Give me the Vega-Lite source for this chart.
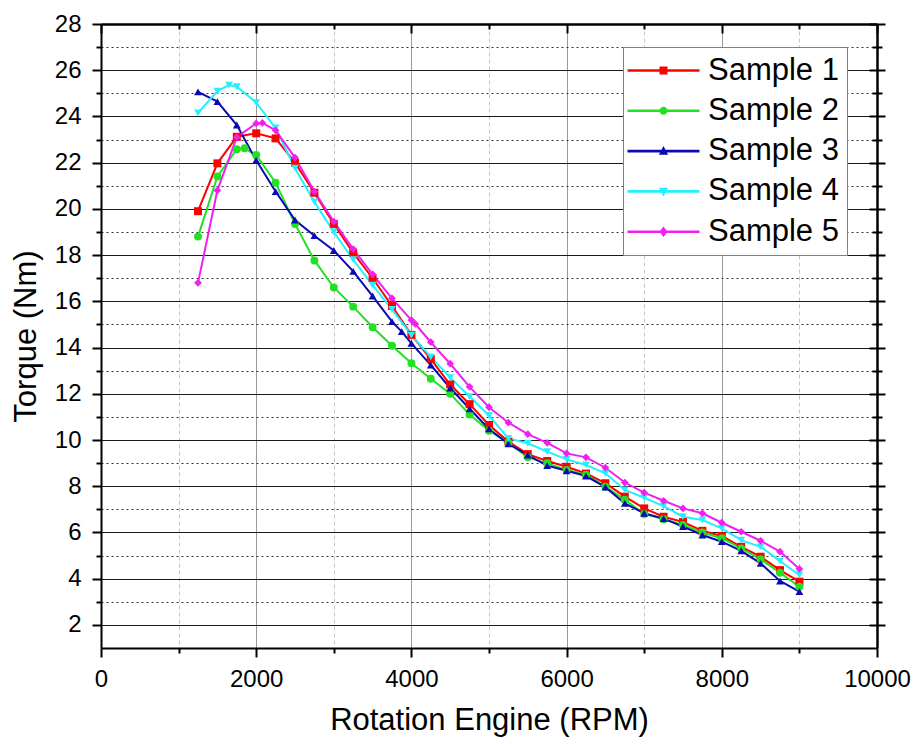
{
  "$schema": "https://vega.github.io/schema/vega-lite/v6.json",
  "width": 776,
  "height": 624,
  "autosize": {"type": "none"},
  "padding": {"left": 101, "top": 24, "right": 39, "bottom": 96},
  "background": "white",
  "config": {
    "font": "Liberation Sans",
    "view": {"stroke": null},
    "axis": {"labelColor": "#000", "titleColor": "#000", "tickColor": "#000", "domainColor": "#000", "labelFont": "Liberation Sans", "titleFont": "Liberation Sans", "titleFontWeight": "normal"}
  },
  "data": {"values": [
    {"series": "Sample 1", "rpm": 1250, "torque": 19.9},
    {"series": "Sample 1", "rpm": 1500, "torque": 21.97},
    {"series": "Sample 1", "rpm": 1750, "torque": 23.12},
    {"series": "Sample 1", "rpm": 2000, "torque": 23.27},
    {"series": "Sample 1", "rpm": 2250, "torque": 23.05},
    {"series": "Sample 1", "rpm": 2500, "torque": 22.0},
    {"series": "Sample 1", "rpm": 2750, "torque": 20.7},
    {"series": "Sample 1", "rpm": 3000, "torque": 19.35},
    {"series": "Sample 1", "rpm": 3250, "torque": 18.1},
    {"series": "Sample 1", "rpm": 3500, "torque": 17.0},
    {"series": "Sample 1", "rpm": 3750, "torque": 15.8},
    {"series": "Sample 1", "rpm": 4000, "torque": 14.55},
    {"series": "Sample 1", "rpm": 4250, "torque": 13.5},
    {"series": "Sample 1", "rpm": 4500, "torque": 12.4},
    {"series": "Sample 1", "rpm": 4750, "torque": 11.55},
    {"series": "Sample 1", "rpm": 5000, "torque": 10.65},
    {"series": "Sample 1", "rpm": 5250, "torque": 9.93},
    {"series": "Sample 1", "rpm": 5500, "torque": 9.39},
    {"series": "Sample 1", "rpm": 5750, "torque": 9.09},
    {"series": "Sample 1", "rpm": 6000, "torque": 8.84},
    {"series": "Sample 1", "rpm": 6250, "torque": 8.55},
    {"series": "Sample 1", "rpm": 6500, "torque": 8.13},
    {"series": "Sample 1", "rpm": 6750, "torque": 7.55},
    {"series": "Sample 1", "rpm": 7000, "torque": 7.04},
    {"series": "Sample 1", "rpm": 7250, "torque": 6.68},
    {"series": "Sample 1", "rpm": 7500, "torque": 6.45},
    {"series": "Sample 1", "rpm": 7750, "torque": 6.07},
    {"series": "Sample 1", "rpm": 8000, "torque": 5.85},
    {"series": "Sample 1", "rpm": 8250, "torque": 5.38},
    {"series": "Sample 1", "rpm": 8500, "torque": 4.95},
    {"series": "Sample 1", "rpm": 8750, "torque": 4.37},
    {"series": "Sample 1", "rpm": 9000, "torque": 3.87},
    {"series": "Sample 2", "rpm": 1250, "torque": 18.8},
    {"series": "Sample 2", "rpm": 1500, "torque": 21.4},
    {"series": "Sample 2", "rpm": 1750, "torque": 22.58},
    {"series": "Sample 2", "rpm": 1850, "torque": 22.62},
    {"series": "Sample 2", "rpm": 2000, "torque": 22.33},
    {"series": "Sample 2", "rpm": 2250, "torque": 21.13},
    {"series": "Sample 2", "rpm": 2500, "torque": 19.35},
    {"series": "Sample 2", "rpm": 2750, "torque": 17.77},
    {"series": "Sample 2", "rpm": 3000, "torque": 16.6},
    {"series": "Sample 2", "rpm": 3250, "torque": 15.77},
    {"series": "Sample 2", "rpm": 3500, "torque": 14.88},
    {"series": "Sample 2", "rpm": 3750, "torque": 14.08},
    {"series": "Sample 2", "rpm": 4000, "torque": 13.32},
    {"series": "Sample 2", "rpm": 4250, "torque": 12.65},
    {"series": "Sample 2", "rpm": 4500, "torque": 12.0},
    {"series": "Sample 2", "rpm": 4750, "torque": 11.1},
    {"series": "Sample 2", "rpm": 5000, "torque": 10.4},
    {"series": "Sample 2", "rpm": 5250, "torque": 9.88},
    {"series": "Sample 2", "rpm": 5500, "torque": 9.25},
    {"series": "Sample 2", "rpm": 5750, "torque": 8.99},
    {"series": "Sample 2", "rpm": 6000, "torque": 8.7},
    {"series": "Sample 2", "rpm": 6250, "torque": 8.5},
    {"series": "Sample 2", "rpm": 6500, "torque": 7.98},
    {"series": "Sample 2", "rpm": 6750, "torque": 7.42},
    {"series": "Sample 2", "rpm": 7000, "torque": 6.8},
    {"series": "Sample 2", "rpm": 7250, "torque": 6.57},
    {"series": "Sample 2", "rpm": 7500, "torque": 6.32},
    {"series": "Sample 2", "rpm": 7750, "torque": 6.0},
    {"series": "Sample 2", "rpm": 8000, "torque": 5.75},
    {"series": "Sample 2", "rpm": 8250, "torque": 5.31},
    {"series": "Sample 2", "rpm": 8500, "torque": 4.84},
    {"series": "Sample 2", "rpm": 8750, "torque": 4.26},
    {"series": "Sample 2", "rpm": 9000, "torque": 3.65},
    {"series": "Sample 3", "rpm": 1250, "torque": 25.06},
    {"series": "Sample 3", "rpm": 1500, "torque": 24.64},
    {"series": "Sample 3", "rpm": 1750, "torque": 23.63},
    {"series": "Sample 3", "rpm": 2000, "torque": 22.1},
    {"series": "Sample 3", "rpm": 2250, "torque": 20.75},
    {"series": "Sample 3", "rpm": 2500, "torque": 19.52},
    {"series": "Sample 3", "rpm": 2750, "torque": 18.84},
    {"series": "Sample 3", "rpm": 3000, "torque": 18.2},
    {"series": "Sample 3", "rpm": 3250, "torque": 17.3},
    {"series": "Sample 3", "rpm": 3500, "torque": 16.23},
    {"series": "Sample 3", "rpm": 3750, "torque": 15.12},
    {"series": "Sample 3", "rpm": 3875, "torque": 14.69},
    {"series": "Sample 3", "rpm": 4000, "torque": 14.18},
    {"series": "Sample 3", "rpm": 4250, "torque": 13.24},
    {"series": "Sample 3", "rpm": 4500, "torque": 12.25},
    {"series": "Sample 3", "rpm": 4750, "torque": 11.35},
    {"series": "Sample 3", "rpm": 5000, "torque": 10.48},
    {"series": "Sample 3", "rpm": 5250, "torque": 9.83},
    {"series": "Sample 3", "rpm": 5500, "torque": 9.35},
    {"series": "Sample 3", "rpm": 5750, "torque": 8.89},
    {"series": "Sample 3", "rpm": 6000, "torque": 8.67},
    {"series": "Sample 3", "rpm": 6250, "torque": 8.44},
    {"series": "Sample 3", "rpm": 6500, "torque": 7.96},
    {"series": "Sample 3", "rpm": 6750, "torque": 7.26},
    {"series": "Sample 3", "rpm": 7000, "torque": 6.83},
    {"series": "Sample 3", "rpm": 7250, "torque": 6.6},
    {"series": "Sample 3", "rpm": 7500, "torque": 6.25},
    {"series": "Sample 3", "rpm": 7750, "torque": 5.89},
    {"series": "Sample 3", "rpm": 8000, "torque": 5.6},
    {"series": "Sample 3", "rpm": 8250, "torque": 5.2},
    {"series": "Sample 3", "rpm": 8500, "torque": 4.66},
    {"series": "Sample 3", "rpm": 8750, "torque": 3.9},
    {"series": "Sample 3", "rpm": 9000, "torque": 3.44},
    {"series": "Sample 4", "rpm": 1250, "torque": 24.15},
    {"series": "Sample 4", "rpm": 1500, "torque": 25.1},
    {"series": "Sample 4", "rpm": 1650, "torque": 25.36},
    {"series": "Sample 4", "rpm": 1750, "torque": 25.29},
    {"series": "Sample 4", "rpm": 2000, "torque": 24.6},
    {"series": "Sample 4", "rpm": 2250, "torque": 23.5},
    {"series": "Sample 4", "rpm": 2500, "torque": 21.76},
    {"series": "Sample 4", "rpm": 2750, "torque": 20.3},
    {"series": "Sample 4", "rpm": 3000, "torque": 19.0},
    {"series": "Sample 4", "rpm": 3250, "torque": 17.8},
    {"series": "Sample 4", "rpm": 3500, "torque": 16.7},
    {"series": "Sample 4", "rpm": 3750, "torque": 15.65},
    {"series": "Sample 4", "rpm": 4000, "torque": 14.54},
    {"series": "Sample 4", "rpm": 4250, "torque": 13.6},
    {"series": "Sample 4", "rpm": 4500, "torque": 12.7},
    {"series": "Sample 4", "rpm": 4750, "torque": 11.88},
    {"series": "Sample 4", "rpm": 5000, "torque": 11.06},
    {"series": "Sample 4", "rpm": 5250, "torque": 10.07},
    {"series": "Sample 4", "rpm": 5500, "torque": 9.86},
    {"series": "Sample 4", "rpm": 5750, "torque": 9.5},
    {"series": "Sample 4", "rpm": 6000, "torque": 9.16},
    {"series": "Sample 4", "rpm": 6250, "torque": 8.92},
    {"series": "Sample 4", "rpm": 6500, "torque": 8.56},
    {"series": "Sample 4", "rpm": 6750, "torque": 7.84},
    {"series": "Sample 4", "rpm": 7000, "torque": 7.5},
    {"series": "Sample 4", "rpm": 7250, "torque": 7.14},
    {"series": "Sample 4", "rpm": 7500, "torque": 6.68},
    {"series": "Sample 4", "rpm": 7750, "torque": 6.54},
    {"series": "Sample 4", "rpm": 8000, "torque": 6.18},
    {"series": "Sample 4", "rpm": 8250, "torque": 5.67},
    {"series": "Sample 4", "rpm": 8500, "torque": 5.38},
    {"series": "Sample 4", "rpm": 8750, "torque": 4.76},
    {"series": "Sample 4", "rpm": 9000, "torque": 4.16},
    {"series": "Sample 5", "rpm": 1250, "torque": 16.8},
    {"series": "Sample 5", "rpm": 1500, "torque": 20.8},
    {"series": "Sample 5", "rpm": 1750, "torque": 23.1},
    {"series": "Sample 5", "rpm": 2000, "torque": 23.7},
    {"series": "Sample 5", "rpm": 2080, "torque": 23.72},
    {"series": "Sample 5", "rpm": 2250, "torque": 23.4},
    {"series": "Sample 5", "rpm": 2500, "torque": 22.22},
    {"series": "Sample 5", "rpm": 2750, "torque": 20.75},
    {"series": "Sample 5", "rpm": 3000, "torque": 19.45},
    {"series": "Sample 5", "rpm": 3250, "torque": 18.26},
    {"series": "Sample 5", "rpm": 3500, "torque": 17.17},
    {"series": "Sample 5", "rpm": 3750, "torque": 16.13},
    {"series": "Sample 5", "rpm": 4000, "torque": 15.19},
    {"series": "Sample 5", "rpm": 4050, "torque": 15.02},
    {"series": "Sample 5", "rpm": 4250, "torque": 14.23},
    {"series": "Sample 5", "rpm": 4500, "torque": 13.3},
    {"series": "Sample 5", "rpm": 4750, "torque": 12.3},
    {"series": "Sample 5", "rpm": 5000, "torque": 11.42},
    {"series": "Sample 5", "rpm": 5250, "torque": 10.75},
    {"series": "Sample 5", "rpm": 5500, "torque": 10.25},
    {"series": "Sample 5", "rpm": 5750, "torque": 9.88},
    {"series": "Sample 5", "rpm": 6000, "torque": 9.42},
    {"series": "Sample 5", "rpm": 6250, "torque": 9.25},
    {"series": "Sample 5", "rpm": 6500, "torque": 8.8},
    {"series": "Sample 5", "rpm": 6750, "torque": 8.16},
    {"series": "Sample 5", "rpm": 7000, "torque": 7.72},
    {"series": "Sample 5", "rpm": 7250, "torque": 7.37},
    {"series": "Sample 5", "rpm": 7500, "torque": 7.04},
    {"series": "Sample 5", "rpm": 7750, "torque": 6.83},
    {"series": "Sample 5", "rpm": 8000, "torque": 6.42},
    {"series": "Sample 5", "rpm": 8250, "torque": 6.03},
    {"series": "Sample 5", "rpm": 8500, "torque": 5.64},
    {"series": "Sample 5", "rpm": 8750, "torque": 5.17},
    {"series": "Sample 5", "rpm": 9000, "torque": 4.42}
  ]},
  "resolve": {
    "axis": {"x": "independent", "y": "independent"},
    "scale": {"color": "independent", "shape": "independent", "size": "independent"},
    "legend": {"color": "independent", "shape": "independent", "size": "independent"}
  },
  "layer": [
    {
      "mark": {"type": "line", "strokeWidth": 2},
      "encoding": {
        "x": {"field": "rpm", "type": "quantitative", "scale": {"domain": [0, 10000], "nice": false, "zero": false},
          "axis": {"orient": "bottom", "values": [1000, 3000, 5000, 7000, 9000], "labels": false, "domain": false, "title": null, "tickSize": 5, "tickWidth": 2, "grid": true, "gridColor": "#c4c4c4", "gridWidth": 1, "gridDash": [4, 3], "zindex": 0}},
        "y": {"field": "torque", "type": "quantitative", "scale": {"domain": [1, 28], "nice": false, "zero": false},
          "axis": {"orient": "left", "values": [3, 5, 7, 9, 11, 13, 15, 17, 19, 21, 23, 25, 27], "labels": false, "domain": false, "title": null, "tickSize": 5, "tickWidth": 2, "grid": true, "gridColor": "#333", "gridWidth": 1, "gridDash": [2, 3], "zindex": 0}},
        "color": {"field": "series", "type": "nominal", "legend": null,
          "scale": {"domain": ["Sample 1", "Sample 2", "Sample 3", "Sample 4", "Sample 5"], "range": ["#ff0000", "#22e022", "#0a0ab4", "#22f0ff", "#f020f0"]}}
      }
    },
    {
      "mark": {"type": "point", "filled": true, "opacity": 1},
      "encoding": {
        "x": {"field": "rpm", "type": "quantitative",
          "axis": {"orient": "bottom", "values": [0, 2000, 4000, 6000, 8000, 10000], "format": "d", "labelFontSize": 24, "labelPadding": 10, "labelFlush": false, "tickSize": 9, "tickWidth": 2, "domainWidth": 2, "grid": true, "gridColor": "#9a9a9a", "gridWidth": 1, "title": "Rotation Engine (RPM)", "titleFontSize": 31, "titlePadding": 14, "zindex": 0}},
        "y": {"field": "torque", "type": "quantitative",
          "axis": {"orient": "left", "values": [2, 4, 6, 8, 10, 12, 14, 16, 18, 20, 22, 24, 26, 28], "labelFontSize": 24, "labelPadding": 11, "tickSize": 9, "tickWidth": 2, "domainWidth": 2, "grid": true, "gridColor": "#1a1a1a", "gridWidth": 1.2, "title": "Torque (Nm)", "titleFontSize": 31, "titlePadding": 12, "zindex": 0}},
        "color": {"field": "series", "type": "nominal", "legend": null,
          "scale": {"domain": ["Sample 1", "Sample 2", "Sample 3", "Sample 4", "Sample 5"], "range": ["#ff0000", "#22e022", "#0a0ab4", "#22f0ff", "#f020f0"]}},
        "shape": {"field": "series", "type": "nominal", "legend": null,
          "scale": {"domain": ["Sample 1", "Sample 2", "Sample 3", "Sample 4", "Sample 5"], "range": ["square", "circle", "triangle-up", "triangle-down", "diamond"]}},
        "size": {"field": "series", "type": "nominal", "legend": null,
          "scale": {"domain": ["Sample 1", "Sample 2", "Sample 3", "Sample 4", "Sample 5"], "range": [64, 60, 90, 90, 80]}}
      }
    },
    {
      "transform": [{"filter": "datum.rpm < 0"}],
      "mark": {"type": "point", "filled": true, "size": 64, "opacity": 1},
      "encoding": {
        "x": {"field": "rpm", "type": "quantitative", "axis": null},
        "y": {"field": "torque", "type": "quantitative", "axis": null},
        "color": {"field": "series", "type": "nominal",
          "scale": {"domain": ["Sample 1", "Sample 2", "Sample 3", "Sample 4", "Sample 5"], "range": ["#ff0000", "#22e022", "#0a0ab4", "#22f0ff", "#f020f0"]},
          "legend": {"title": null, "orient": "none", "legendX": 522, "legendY": 23, "fillColor": "white", "strokeColor": "#808080", "padding": 8,
            "labelFontSize": 31, "labelColor": "#000", "labelLimit": 400, "symbolSize": 64, "symbolOffset": 17, "labelOffset": 29, "rowPadding": 8.3, "symbolStrokeWidth": 0}},
        "shape": {"field": "series", "type": "nominal",
          "scale": {"domain": ["Sample 1", "Sample 2", "Sample 3", "Sample 4", "Sample 5"],
            "range": ["M-9,-0.32H9V0.32H-9ZM-1,-1H1V1H-1Z", "M-9,-0.32H9V0.32H-9ZM1,0A1,1 0 1,1 -1,0A1,1 0 1,1 1,0Z", "M-9,-0.32H9V0.32H-9ZM0,-1.3L1.15,0.9H-1.15Z", "M-9,-0.32H9V0.32H-9ZM0,1.3L-1.15,-0.9H1.15Z", "M-9,-0.32H9V0.32H-9ZM0,-1.3L1,0L0,1.3L-1,0Z"]},
          "legend": {"title": null, "orient": "none", "legendX": 522, "legendY": 23, "fillColor": "white", "strokeColor": "#808080", "padding": 8,
            "labelFontSize": 31, "labelColor": "#000", "labelLimit": 400, "symbolSize": 64, "symbolOffset": 17, "labelOffset": 29, "rowPadding": 8.3, "symbolStrokeWidth": 0}}
      }
    },
    {
      "transform": [{"filter": "datum.rpm < 0"}],
      "mark": {"type": "line"},
      "encoding": {
        "x": {"field": "rpm", "type": "quantitative",
          "axis": {"orient": "top", "values": [0, 2000, 4000, 6000, 8000, 10000], "labels": false, "title": null, "grid": false, "tickSize": -9, "tickWidth": 2, "domainWidth": 2.5, "zindex": 1}},
        "y": {"field": "torque", "type": "quantitative",
          "axis": {"orient": "right", "values": [2, 4, 6, 8, 10, 12, 14, 16, 18, 20, 22, 24, 26, 28], "labels": false, "title": null, "grid": false, "tickSize": 8, "tickWidth": 2, "domainWidth": 2.5, "zindex": 1}}
      }
    },
    {
      "transform": [{"filter": "datum.rpm < 0"}],
      "mark": {"type": "line"},
      "encoding": {
        "x": {"field": "rpm", "type": "quantitative",
          "axis": {"orient": "top", "values": [1000, 3000, 5000, 7000, 9000], "labels": false, "title": null, "grid": false, "domain": false, "tickSize": -5, "tickWidth": 2, "zindex": 1}},
        "y": {"field": "torque", "type": "quantitative",
          "axis": {"orient": "right", "values": [2, 4, 6, 8, 10, 12, 14, 16, 18, 20, 22, 24, 26, 28], "labels": false, "title": null, "grid": false, "domain": false, "tickSize": -8, "tickWidth": 2, "zindex": 1}}
      }
    },
    {
      "transform": [{"filter": "datum.rpm < 0"}],
      "mark": {"type": "line"},
      "encoding": {
        "x": {"field": "rpm", "type": "quantitative", "axis": null},
        "y": {"field": "torque", "type": "quantitative",
          "axis": {"orient": "right", "values": [3, 5, 7, 9, 11, 13, 15, 17, 19, 21, 23, 25, 27], "labels": false, "title": null, "grid": false, "domain": false, "tickSize": 5, "tickWidth": 2, "zindex": 1}}
      }
    },
    {
      "transform": [{"filter": "datum.rpm < 0"}],
      "mark": {"type": "line"},
      "encoding": {
        "x": {"field": "rpm", "type": "quantitative", "axis": null},
        "y": {"field": "torque", "type": "quantitative",
          "axis": {"orient": "right", "values": [3, 5, 7, 9, 11, 13, 15, 17, 19, 21, 23, 25, 27], "labels": false, "title": null, "grid": false, "domain": false, "tickSize": -5, "tickWidth": 2, "zindex": 1}}
      }
    }
  ]
}
